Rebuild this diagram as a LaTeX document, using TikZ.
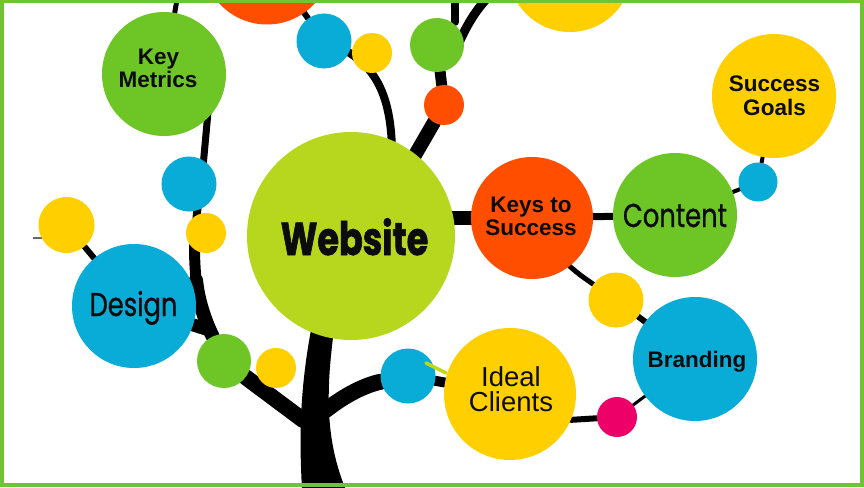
\documentclass[tikz,border=0pt]{standalone}
\usepackage{fontspec}
\setmainfont{Liberation Sans}
\newfontfamily\geo{Poppins}[FakeStretch=0.78, FakeBold=0.8]
\newfontfamily\geoweb{Poppins}[FakeStretch=0.76, FakeBold=1.4]
\usetikzlibrary{calc}
\definecolor{cLime}{RGB}{183,214,30}
\definecolor{cGreen}{RGB}{109,197,38}
\definecolor{cBlue}{RGB}{8,172,214}
\definecolor{cYellow}{RGB}{255,207,0}
\definecolor{cOrange}{RGB}{255,78,0}
\definecolor{cPink}{RGB}{238,0,105}
\definecolor{cBorder}{RGB}{112,196,52}
\definecolor{cInk}{RGB}{12,12,12}
\pgfdeclarelayer{bg}
\pgfsetlayers{bg,main}
\tikzset{
  bubble/.style={circle, inner sep=0pt, minimum size=#1},
  branch/.style={draw=black, line width=#1, line cap=round},
  boldlbl/.style={font=\fontsize{22.5}{24}\selectfont\bfseries, text=cInk, anchor=base, inner sep=0pt},
  reglbl/.style={font=\fontsize{27.5}{27.5}\selectfont, text=cInk, anchor=base, inner sep=0pt},
  geolbl/.style={font=\geo\fontsize{33}{33}\selectfont, text=cInk, anchor=base, inner sep=0pt},
  weblbl/.style={font=\geoweb\fontsize{46}{46}\selectfont\bfseries, text=cInk, anchor=base, inner sep=0pt},
}
\begin{document}
\begin{tikzpicture}[x=1pt,y=-1pt]
\useasboundingbox (0,0) rectangle (864,487);
\begin{scope}
\clip (0,0) rectangle (864,487);
% bubbles
\node[bubble=129, fill=cOrange] (orT) at (267,-40) {};
\node[bubble=124, fill=cYellow] (yeT) at (570,-30) {};
\node[bubble=124, fill=cGreen] (km) at (164,74) {};
\node[bubble=55, fill=cBlue] (bT) at (324,41) {};
\node[bubble=40, fill=cYellow] (yT) at (372,53) {};
\node[bubble=54, fill=cGreen] (gT) at (437,45) {};
\node[bubble=40, fill=cOrange] (oT) at (444,105) {};
\node[bubble=55, fill=cBlue] (bL) at (189,184) {};
\node[bubble=40, fill=cYellow] (yL) at (206,233) {};
\node[bubble=56, fill=cYellow] (yFL) at (66.5,225) {};
\node[bubble=208, fill=cLime] (web) at (351,236) {};
\node[bubble=124, fill=cBlue] (des) at (134,306) {};
\node[bubble=54, fill=cGreen] (gB) at (224,361) {};
\node[bubble=40, fill=cYellow] (yB) at (276,368) {};
\node[bubble=55, fill=cBlue] (bB) at (408,376) {};
\node[bubble=132, fill=cYellow] (ideal) at (510,394) {};
\node[bubble=122, fill=cOrange] (keys) at (532,218) {};
\node[bubble=124, fill=cGreen] (content) at (675,215) {};
\node[bubble=124, fill=cYellow] (sg) at (774,96) {};
\node[bubble=39, fill=cBlue] (bR) at (758,182) {};
\node[bubble=55, fill=cYellow] (yR) at (616,300) {};
\node[bubble=124, fill=cBlue] (brand) at (695,359) {};
\node[bubble=40, fill=cPink] (pink) at (617,417) {};
% small light stroke between blue bubble and Ideal Clients
\draw[cLime!80!cYellow, line width=3.5, line cap=round] (426,363) -- (446,373);
% labels
\node[boldlbl] (tKey) at (158.5,65) {Key};
\node[boldlbl] (tMet) at (158,88) {Metrics};
\node[weblbl] (tWeb) at (354.5,255) {Website};
\node[geolbl] (tDes) at (133.5,316) {Design};
\node[geolbl] (tCon) at (675,227) {Content};
\node[boldlbl] (tKeys) at (531,212) {Keys to};
\node[boldlbl] (tSuc) at (531,235) {Success};
\node[boldlbl] (tSG1) at (774.5,92) {Success};
\node[boldlbl] (tSG2) at (774.5,115) {Goals};
\node[boldlbl] (tBr) at (697,367) {Branding};
\node[reglbl] (tId) at (511,386) {Ideal};
\node[reglbl] (tCl) at (511,411) {Clients};
\end{scope}
\begin{pgfonlayer}{bg}
\begin{scope}
\clip (0,0) rectangle (864,487);
\fill[white] (0,0) rectangle (864,487);
\coordinate (trunkL) at (303,420);
\coordinate (trunkR) at (326,410);
\coordinate (webTop) at (392,150);
\coordinate (webTR) at (411,162);
% trunk
\fill[black] (302,490) .. controls (300,450) and (298,400) .. (311,330) -- (334,330) .. controls (326,390) and (325,440) .. (346,490) -- cycle;
% left branches
\draw[branch=16] (trunkL) -- (gB);
\draw[branch=14] (gB) .. controls (212,335) and (199,310) .. (196,280);
\draw[branch=11] (196,282) .. controls (195,265) and (194,255) .. (195,240);
\draw[branch=8] (195,242) .. controls (196,215) and (199,195) .. (203,165);
\draw[branch=7] (203,167) -- (208,112);
\draw[branch=5] (km) -- (178,-6);
\draw[branch=13] (des) -- (206,329);
\draw[branch=6] (yFL) -- (des);
\draw[black!60, line width=1.5] (33,238) -- (46,238);
% right trunk branch
\draw[branch=16] (trunkR) .. controls (345,395) and (365,385) .. (bB);
\draw[branch=10] (bB) -- (ideal);
% top branches
\draw[branch=8] (webTop) .. controls (391,100) and (378,70) .. (348,52) -- (bT);
\draw[branch=6] (bT) -- (orT);
\draw[branch=14] (webTR) -- (oT);
\draw[branch=11] (oT) -- (gT);
\draw[branch=8] (455,22) -- (455,-6);
\draw[branch=9] (458,45) .. controls (468,22) and (478,7) .. (493,-8);
% right side
\draw[branch=14] (keys) -- (keys -| web.center);
\draw[branch=7] (keys) -- (content);
\draw[branch=4] (content) -- (bR);
\draw[branch=4] (bR) -- (sg);
\draw[branch=5] (keys.-52) .. controls (580,275) .. (yR);
\draw[branch=6] (yR) -- (brand);
\draw[branch=3] (brand) -- (pink);
\draw[branch=6] (ideal.-23) .. controls (585,419) .. (pink);
\end{scope}
\end{pgfonlayer}
% frame
\draw[cBorder, line width=4] (2,1.5) rectangle (862,485);
\end{tikzpicture}
\end{document}
